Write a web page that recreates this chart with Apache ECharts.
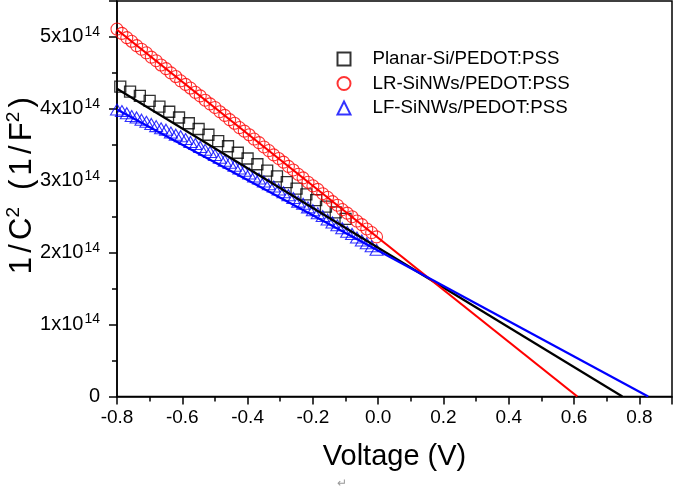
<!DOCTYPE html>
<html>
<head>
<meta charset="utf-8">
<script src="https://cdn.jsdelivr.net/npm/echarts@6/dist/echarts.min.js"></script>
<style>
html,body{margin:0;padding:0;background:#fff;}
#c{width:675px;height:491px;}
</style>
</head>
<body>
<div id="c"></div>
<script>
// values of 1/C^2 in units of 1e14 F^-2
const seriesNames = ['Planar-Si/PEDOT:PSS', 'LR-SiNWs/PEDOT:PSS', 'LF-SiNWs/PEDOT:PSS'];

const planarV = [-0.79,-0.76,-0.73,-0.70,-0.67,-0.64,-0.61,-0.58,-0.55,-0.52,-0.49,-0.46,-0.43,-0.40,-0.37,-0.34,-0.31,-0.28,-0.25,-0.22,-0.19,-0.16,-0.13,-0.10];
const planarY = [4.31,4.24,4.18,4.11,4.03,3.96,3.88,3.80,3.72,3.64,3.55,3.48,3.39,3.31,3.23,3.14,3.06,2.98,2.89,2.81,2.73,2.64,2.56,2.47];

const lrV = [-0.800,-0.785,-0.770,-0.755,-0.740,-0.725,-0.710,-0.695,-0.680,-0.665,-0.650,-0.635,-0.620,-0.605,-0.590,-0.575,-0.560,-0.545,-0.530,-0.515,-0.500,-0.485,-0.470,-0.455,-0.440,-0.425,-0.410,-0.395,-0.380,-0.365,-0.350,-0.335,-0.320,-0.305,-0.290,-0.275,-0.260,-0.245,-0.230,-0.215,-0.200,-0.185,-0.170,-0.155,-0.140,-0.125,-0.110,-0.095,-0.080,-0.065,-0.050,-0.035,-0.020,-0.005];
const lrY = [5.11,5.05,4.99,4.94,4.88,4.83,4.78,4.72,4.67,4.61,4.56,4.50,4.45,4.39,4.34,4.29,4.23,4.18,4.12,4.07,4.02,3.96,3.91,3.85,3.80,3.74,3.69,3.64,3.58,3.53,3.47,3.42,3.36,3.31,3.26,3.20,3.15,3.09,3.04,2.98,2.93,2.88,2.82,2.77,2.71,2.66,2.60,2.55,2.50,2.44,2.39,2.33,2.28,2.22];

const lfV = [-0.800,-0.785,-0.770,-0.755,-0.740,-0.725,-0.710,-0.695,-0.680,-0.665,-0.650,-0.635,-0.620,-0.605,-0.590,-0.575,-0.560,-0.545,-0.530,-0.515,-0.500,-0.485,-0.470,-0.455,-0.440,-0.425,-0.410,-0.395,-0.380,-0.365,-0.350,-0.335,-0.320,-0.305,-0.290,-0.275,-0.260,-0.245,-0.230,-0.215,-0.200,-0.185,-0.170,-0.155,-0.140,-0.125,-0.110,-0.095,-0.080,-0.065,-0.050,-0.035,-0.020,-0.005];
const lfY = [3.99,3.97,3.94,3.90,3.88,3.85,3.82,3.79,3.76,3.73,3.71,3.67,3.64,3.62,3.58,3.54,3.51,3.47,3.43,3.40,3.36,3.32,3.28,3.25,3.21,3.17,3.14,3.10,3.06,3.03,2.99,2.95,2.92,2.88,2.84,2.80,2.76,2.71,2.68,2.63,2.59,2.55,2.51,2.46,2.42,2.38,2.34,2.29,2.26,2.21,2.17,2.13,2.09,2.04];

// linear fits: [voltage, 1/C^2]
const planarFit = [[-0.8, 4.28], [0.748, 0]];
const lrFit = [[-0.8, 5.10], [0.61, 0]];
const lfFit = [[-0.8, 3.99], [0.827, 0]];

const xTicks = [-0.8, -0.6, -0.4, -0.2, 0.0, 0.2, 0.4, 0.6, 0.8];
const yTicks = [0, 1, 2, 3, 4, 5];

const FONT = '"Liberation Sans", Arial, sans-serif';
const zip = (a, b) => a.map((v, i) => [v, b[i]]);

const chart = echarts.init(document.getElementById('c'), null, {renderer: 'canvas'});
const axisCommon = {
  axisLine: {onZero: false, lineStyle: {color: '#000', width: 1.5}},
  axisTick: {show: true, inside: false, length: 8, lineStyle: {color: '#000', width: 1.5}},
  minorTick: {show: true, splitNumber: 2, length: 5, lineStyle: {color: '#000', width: 1.5}},
  splitLine: {show: false},
  minorSplitLine: {show: false},
  nameMoveOverlap: false
};

const GAP = 4.2;
const yTitleRich = {
  c: {fontSize: 31, lineHeight: 36, color: '#000', fontFamily: FONT, padding: [0, GAP, 0, 0]},
  t: {fontSize: 31, lineHeight: 36, color: '#000', fontFamily: FONT},
  s: {fontSize: 19, lineHeight: 19, verticalAlign: 'top', color: '#000', fontFamily: FONT, padding: [0, GAP, 0, 0]}
};

chart.setOption({
  animation: false,
  backgroundColor: '#fff',
  grid: {left: 117, right: 3, top: 1, bottom: 94.5, show: true, borderColor: '#000', borderWidth: 1.5,
         containLabel: false, outerBoundsMode: 'none'},
  xAxis: Object.assign({
    type: 'value', min: xTicks[0], max: 0.9, interval: 0.2,
    name: 'Voltage (V)', nameLocation: 'middle', nameGap: 46,
    nameTextStyle: {fontSize: 29, color: '#000', fontFamily: FONT},
    axisLabel: {
      color: '#000', fontSize: 19, fontFamily: FONT, margin: 12, showMaxLabel: false,
      formatter: v => (Math.abs(v) < 1e-9 ? 0 : v).toFixed(1)
    }
  }, axisCommon),
  yAxis: Object.assign({
    type: 'value', min: yTicks[0], max: 5.5, interval: 1,
    name: '{c|1}{c|/}{t|C}{s|2}{c| }{c|(}{c|1}{c|/}{t|F}{s|2}{t|)}',
    nameLocation: 'middle', nameGap: 77, nameRotate: 90,
    nameTextStyle: {color: '#000', fontFamily: FONT, padding: [0, 0, 0, 26], rich: yTitleRich},
    axisLabel: {
      margin: 17, showMaxLabel: false,
      formatter: v => v === 0 ? '{a|0}' : '{a|' + v + 'x10}{s|14}',
      rich: {
        a: {fontSize: 20, lineHeight: 24, color: '#000', fontFamily: FONT},
        s: {fontSize: 14, lineHeight: 14, verticalAlign: 'top', color: '#000', fontFamily: FONT, padding: [0, 0, 0, 1]}
      }
    }
  }, axisCommon),
  legend: {
    data: seriesNames,
    orient: 'vertical', left: 331.5, top: 42, itemGap: 0.5,
    itemWidth: 13, itemHeight: 13,
    textStyle: {fontSize: 18.7, color: '#000', fontFamily: FONT, lineHeight: 24, padding: [0, 0, 0, 17]},
    selectedMode: false
  },
  graphic: [{
    type: 'text', left: 337, top: 478,
    style: {text: '\u21B5', fill: '#999', fontSize: 12, fontFamily: FONT}
  }],
  series: [
    {name: seriesNames[0], type: 'scatter', symbol: 'rect', symbolSize: 11, data: zip(planarV, planarY),
     itemStyle: {color: 'rgba(0,0,0,0)', borderColor: '#000', borderWidth: 1.3}, z: 2},
    {name: seriesNames[1], type: 'scatter', symbol: 'circle', symbolSize: 12, data: zip(lrV, lrY),
     itemStyle: {color: 'rgba(0,0,0,0)', borderColor: '#ff0000', borderWidth: 1.1}, z: 2},
    {name: seriesNames[2], type: 'scatter', symbol: 'triangle', symbolSize: [13, 11], data: zip(lfV, lfY),
     itemStyle: {color: 'rgba(0,0,0,0)', borderColor: '#0000ff', borderWidth: 1.1}, z: 2},
    {name: 'fit1', type: 'line', data: planarFit, symbol: 'none', lineStyle: {color: '#000', width: 2.2}, z: 3, silent: true},
    {name: 'fit2', type: 'line', data: lrFit, symbol: 'none', lineStyle: {color: '#ff0000', width: 2.2}, z: 3, silent: true},
    {name: 'fit3', type: 'line', data: lfFit, symbol: 'none', lineStyle: {color: '#0000ff', width: 2.2}, z: 3, silent: true}
  ]
});
</script>
</body>
</html>
